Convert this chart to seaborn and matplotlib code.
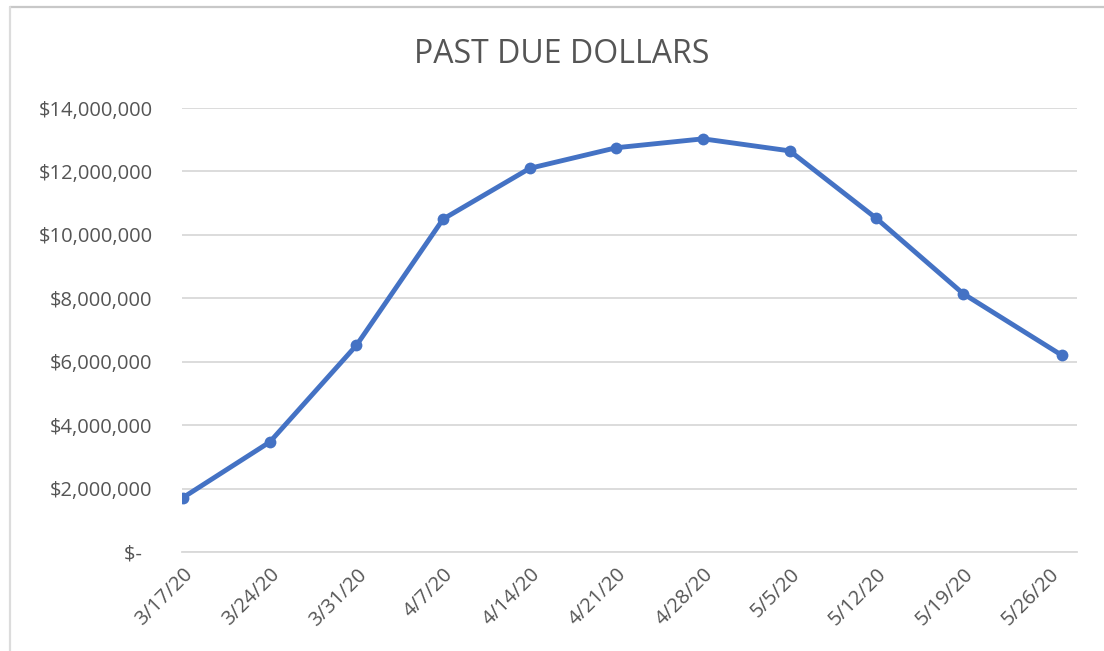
# Past due dollars, weekly line chart (Excel style)

# %%
import datetime
import numpy as np
import pandas as pd
import seaborn as sns
import matplotlib.pyplot as plt
import matplotlib.dates as mdates
from matplotlib.lines import Line2D
from matplotlib.ticker import FuncFormatter

# %%
# values
dates = ['2020-03-17', '2020-03-24', '2020-03-31', '2020-04-07', '2020-04-14',
         '2020-04-21', '2020-04-28', '2020-05-05', '2020-05-12', '2020-05-19',
         '2020-05-27']
past_due = [1720000, 3470000, 6520000, 10500000, 12100000,
            12750000, 13030000, 12650000, 10520000, 8150000, 6200000]
tick_dates = ['2020-03-17', '2020-03-24', '2020-03-31', '2020-04-07', '2020-04-14',
              '2020-04-21', '2020-04-28', '2020-05-05', '2020-05-12', '2020-05-19',
              '2020-05-26']
tick_labels = ['3/17/20', '3/24/20', '3/31/20', '4/7/20', '4/14/20', '4/21/20',
               '4/28/20', '5/5/20', '5/12/20', '5/19/20', '5/26/20']
y_ticks = [0, 2000000, 4000000, 6000000, 8000000, 10000000, 12000000, 14000000]

data = pd.DataFrame({'date': pd.to_datetime(dates), 'dollars': past_due})

# %%
sns.set_style('white')
plt.rcParams['font.family'] = ['Open Sans', 'DejaVu Sans']
grey = '#555555'
light = '#d9d9d9'
blue = '#4472C4'

fig = plt.figure(figsize=(11.04, 6.51), dpi=100)
ax = fig.add_axes([0.1645, 0.152, 0.811, 0.682])

sns.lineplot(data=data, x='date', y='dollars', ax=ax, color=blue,
             linewidth=3.5, marker='o', markersize=8.5, markeredgewidth=0)

start = pd.Timestamp(tick_dates[0])
ax.set_xlim(start - pd.Timedelta(hours=3), start + pd.Timedelta(days=72.2))
ax.set_ylim(0, 14000000)

ax.set_yticks(y_ticks)
ax.yaxis.set_major_formatter(FuncFormatter(
    lambda v, p: '$-  ' if v == 0 else '${:,.0f}'.format(v)))
ax.tick_params(axis='y', length=0, pad=21, labelsize=14.5, labelcolor=grey)
ax.grid(axis='y', color=light, linewidth=1.3)
ax.grid(axis='x', visible=False)

ax.set_xticks(pd.to_datetime(tick_dates))
ax.set_xticklabels(tick_labels, rotation=45, ha='right', rotation_mode='anchor')
ax.tick_params(axis='x', length=5, width=1.3, color=light, pad=4,
               labelsize=14.5, labelcolor=grey)

for s in ['top', 'right', 'left']:
    ax.spines[s].set_visible(False)
ax.spines['bottom'].set_color(light)
ax.spines['bottom'].set_linewidth(1.3)
ax.set(xlabel='', ylabel='')

fig.text(0.509, 0.9032, 'PAST DUE DOLLARS', ha='center', va='baseline',
         fontsize=23, color=grey)

# chart border (top and left edges of the screenshot)
fig.add_artist(Line2D([0.009, 1.0], [0.9885, 0.9885], color='#c8c8c8',
                      linewidth=1.6, transform=fig.transFigure))
fig.add_artist(Line2D([0.009, 0.009], [0.0, 0.9885], color='#dcdcdc',
                      linewidth=1.6, transform=fig.transFigure))

fig.savefig('out.png', dpi=100)
